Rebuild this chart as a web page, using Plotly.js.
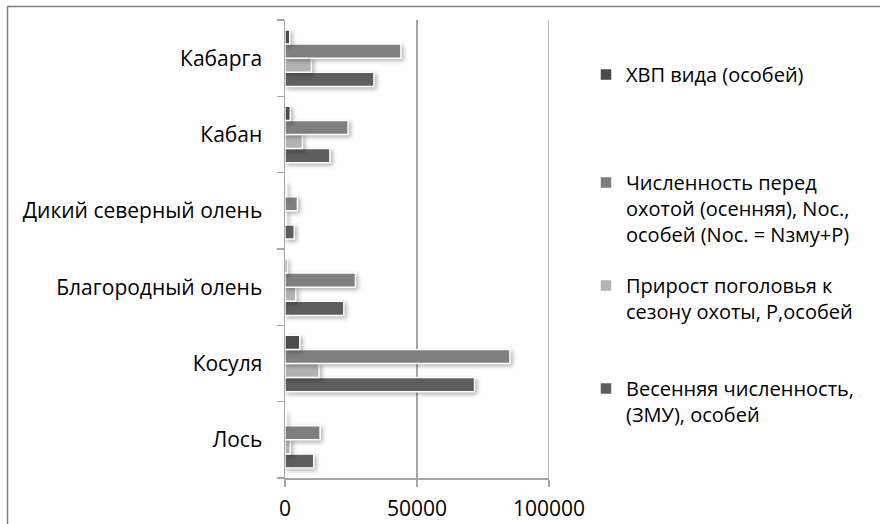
<!DOCTYPE html>
<html><head><meta charset="utf-8">
<script src="https://cdn.plot.ly/plotly-3.0.1.min.js"></script>
<style>body{margin:0;background:#fff}#chart{width:880px;height:524px}
#chart .barlayer .point path{filter:drop-shadow(2px 2px 2px rgba(0,0,0,0.3));}
</style>
</head><body><div id="chart"></div>
<script>
const categories = ["Лось","Косуля","Благородный олень","Дикий северный олень","Кабан","Кабарга"];
const spring = [10900, 71800, 22300, 3500, 17000, 33700];
const growth = [2000, 12900, 4100, 500, 6600, 10000];
const autumn = [13300, 85200, 26700, 4700, 23900, 43900];
const quota = [400, 5600, 800, 600, 2000, 1800];
const seriesNames = [
  "Весенняя численность,<br>(ЗМУ), особей",
  "Прирост поголовья к<br>сезону охоты, Р,особей",
  "Численность перед<br>охотой (осенняя), Nос.,<br>особей (Nос. = Nзму+Р)",
  "ХВП вида (особей)"
];
const xTicks = [0, 50000, 100000];

const colors = ["#5e5e5e","#b3b3b3","#7f7f7f","#4b4b4b"];
const values = [spring, growth, autumn, quota];
const legendIds = ["legend4","legend3","legend2","legend"];
const FONT = "Open Sans, sans-serif";

const W = 880, H = 524, ML = 285, MR = 331, MT = 20, MB = 46;
const pw = W - ML - MR, ph = H - MT - MB;
const px = x => (x - ML) / pw;
const py = y => 1 - (y - MT) / ph;

const traces = values.map((v, i) => ({
  type: "bar", orientation: "h", y: categories, x: v, name: seriesNames[i],
  legend: legendIds[i],
  marker: {color: colors[i], line: {color: "#ffffff", width: 1.5}},
  hoverinfo: "x+name"
}));

const legendBase = (ypix) => ({
  x: px(586), xanchor: "left", y: py(ypix), yanchor: "top",
  valign: "top", font: {family: FONT, size: 20, color: "#000"},
  bgcolor: "rgba(0,0,0,0)", borderwidth: 0
});

const layout = {
  width: W, height: H,
  margin: {l: ML, r: MR, t: MT, b: MB, pad: 0},
  paper_bgcolor: "#fff", plot_bgcolor: "#fff",
  barmode: "group", bargap: 0.26, bargroupgap: 0,
  font: {family: FONT, size: 21, color: "#000"},
  showlegend: true,
  legend: legendBase(55),
  legend2: legendBase(163),
  legend3: legendBase(266),
  legend4: legendBase(369),
  xaxis: {
    range: [0, 100000], tickvals: xTicks, ticktext: xTicks.map(String),
    showgrid: true, gridcolor: "#a6a6a6", gridwidth: 1.5,
    zeroline: false, showline: true, linecolor: "#a6a6a6", linewidth: 1.5,
    ticks: "outside", ticklen: 7, tickcolor: "#a6a6a6", tickwidth: 1.5,
    ticklabelstandoff: 4,
    tickfont: {family: FONT, size: 21, color: "#000"}, fixedrange: true
  },
  yaxis: {
    type: "category", categoryorder: "array", categoryarray: categories,
    showgrid: false, zeroline: false, showline: true, linecolor: "#a6a6a6", linewidth: 1.5,
    ticks: "outside", ticklen: 7, tickcolor: "#a6a6a6", tickwidth: 1.5, tickson: "boundaries",
    ticklabelstandoff: 17,
    tickfont: {family: FONT, size: 21, color: "#000"}, fixedrange: true
  },
  shapes: [
    {type: "line", xref: "x", yref: "paper", x0: xTicks[2], x1: xTicks[2], y0: 0, y1: 1, layer: "below", line: {color: "#a6a6a6", width: 1.5}},
    {type: "line", xref: "paper", yref: "paper", x0: px(7), x1: px(900), y0: py(6.5), y1: py(6.5), line: {color: "#808080", width: 1.5}},
    {type: "line", xref: "paper", yref: "paper", x0: px(7.5), x1: px(7.5), y0: py(6), y1: py(540), line: {color: "#808080", width: 1.5}}
  ]
};

Plotly.newPlot("chart", traces, layout, {displayModeBar: false, staticPlot: true});
</script></body></html>
